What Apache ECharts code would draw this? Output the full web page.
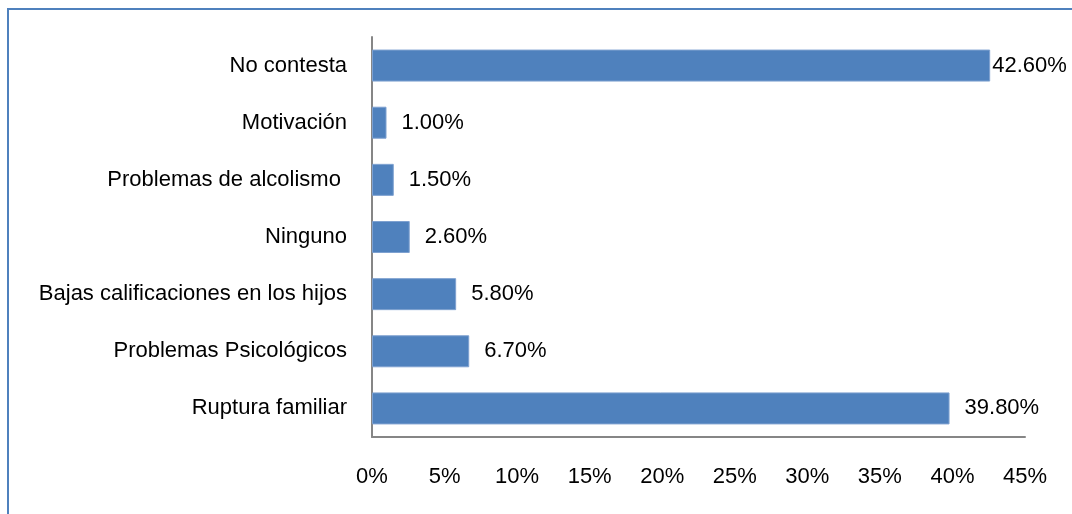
<!DOCTYPE html>
<html>
<head>
<meta charset="utf-8">
<script src="https://cdn.jsdelivr.net/npm/echarts@6/dist/echarts.min.js"></script>
<style>
  html, body { margin: 0; padding: 0; background: #fff; }
  #chart { width: 1072px; height: 514px; }
</style>
</head>
<body>
<div id="chart"></div>
<script>
// categories bottom -> top
var categories = ['Ruptura familiar', 'Problemas Psicológicos', 'Bajas calificaciones en los hijos',
  'Ninguno', 'Problemas de alcolismo ', 'Motivación', 'No contesta'];
var values = [39.8, 6.7, 5.8, 2.6, 1.5, 1.0, 42.6];
var xTicks = { min: 0, max: 45, interval: 5 };

var font = 'Liberation Sans';
var myChart = echarts.init(document.getElementById('chart'));

var seriesData = values.map(function (v, i) {
  var item = { value: v };
  // top bar label sits close to the bar end
  if (i === values.length - 1) item.label = { distance: 2 };
  return item;
});

myChart.setOption({
  animation: false,
  backgroundColor: '#fff',
  textStyle: { fontFamily: font },
  graphic: [{
    type: 'rect',
    shape: { x: 8, y: 9, width: 1100, height: 600 },
    style: { fill: 'none', stroke: '#4F81BD', lineWidth: 2 }
  }],
  grid: { left: 372, right: 47, top: 37, bottom: 77, containLabel: false },
  xAxis: {
    type: 'value',
    min: xTicks.min, max: xTicks.max, interval: xTicks.interval,
    axisLine: { show: true, lineStyle: { color: '#868686', width: 2 } },
    axisTick: { show: false },
    splitLine: { show: false },
    axisLabel: { formatter: '{value}%', color: '#000', fontSize: 22, margin: 29, fontFamily: font }
  },
  yAxis: {
    type: 'category',
    data: categories,
    axisLine: { show: true, lineStyle: { color: '#868686', width: 2 } },
    axisTick: { show: false },
    axisLabel: { color: '#000', fontSize: 22, margin: 25, fontFamily: font }
  },
  series: [{
    type: 'bar',
    data: seriesData,
    barWidth: '56%',
    itemStyle: { color: '#4F81BD', borderColor: '#7EA1D0', borderWidth: 1 },
    label: {
      show: true,
      position: 'right',
      distance: 15,
      color: '#000',
      fontSize: 22,
      fontFamily: font,
      formatter: function (p) { return p.value.toFixed(2) + '%'; }
    }
  }]
});
</script>
</body>
</html>
